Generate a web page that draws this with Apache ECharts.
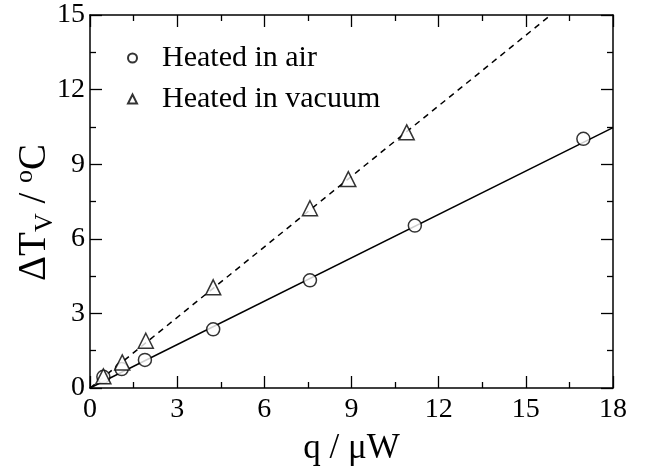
<!DOCTYPE html>
<html><head><meta charset="utf-8">
<script src="https://cdn.jsdelivr.net/npm/echarts@6/dist/echarts.min.js"></script>
<style>html,body{margin:0;padding:0;background:#fff}#c{width:658px;height:471px}</style>
</head><body><div id="c"></div>
<script>
// Data
const airQ = [0.46, 1.09, 1.89, 4.24, 7.57, 11.18, 16.98];
const airT = [0.45, 0.76, 1.13, 2.36, 4.33, 6.53, 10.02];
const vacQ = [0.46, 1.11, 1.92, 4.24, 7.57, 8.89, 10.90];
const vacT = [0.47, 1.03, 1.90, 4.05, 7.23, 8.40, 10.28];
const airFitQ = [0, 18];
const airFitT = [0, 10.47];
const vacFitQ = [0, 15.86];
const vacFitT = [0, 15];
const seriesNames = ['Heated in air', 'Heated in vacuum'];
const xTicks = {min: 0, max: 18, interval: 3};
const yTicks = {min: 0, max: 15, interval: 3};

const zip = (a, b) => a.map((v, i) => [v, b[i]]);
const font = 'Liberation Serif, Times New Roman, serif';

const tickCommon = {show: true, inside: true, length: 12, lineStyle: {color: '#000', width: 1.3}};
const minorCommon = {show: true, splitNumber: 2, length: 6, lineStyle: {color: '#000', width: 1.3}};
const lineCommon = {show: true, onZero: false, lineStyle: {color: '#000', width: 1.5}};

const chart = echarts.init(document.getElementById('c'), null, {renderer: 'canvas'});
chart.setOption({
  animation: false,
  backgroundColor: '#fff',
  grid: {left: 90, right: 45, top: 15, bottom: 83, containLabel: false, outerBoundsMode: 'none'},
  legend: {
    data: seriesNames,
    orient: 'vertical',
    left: 122, top: 38,
    itemWidth: 9, itemHeight: 9,
    itemGap: 11,
    textStyle: {fontFamily: font, fontSize: 30, lineHeight: 30, color: '#000', padding: [0, 0, 0, 20]},
    inactiveColor: '#000'
  },
  xAxis: [{
    type: 'value', min: xTicks.min, max: xTicks.max, interval: xTicks.interval,
    position: 'bottom',
    axisLine: lineCommon, axisTick: tickCommon, minorTick: minorCommon,
    splitLine: {show: false},
    axisLabel: {fontFamily: font, fontSize: 28, color: '#000', margin: 8},
    name: 'q / μW', nameLocation: 'middle', nameGap: 43, nameMoveOverlap: false,
    nameTextStyle: {fontFamily: font, fontSize: 35, color: '#000'}
  }, {
    type: 'value', min: xTicks.min, max: xTicks.max, interval: xTicks.interval,
    position: 'top',
    axisLine: lineCommon, axisTick: tickCommon, minorTick: minorCommon,
    splitLine: {show: false}, axisLabel: {show: false}
  }],
  yAxis: [{
    type: 'value', min: yTicks.min, max: yTicks.max, interval: yTicks.interval,
    position: 'left',
    axisLine: lineCommon, axisTick: tickCommon, minorTick: minorCommon,
    splitLine: {show: false},
    axisLabel: {fontFamily: font, fontSize: 28, color: '#000', margin: 5},
    name: '{a|ΔT}{b|V}{a| / }{c|o}{a|C}', nameLocation: 'middle', nameGap: 32, nameMoveOverlap: false,
    nameTextStyle: {
      fontFamily: font, color: '#000', padding: [0, 22, 0, 0],
      rich: {
        a: {fontFamily: font, fontSize: 39, color: '#000', lineHeight: 46, verticalAlign: 'middle'},
        b: {fontFamily: font, fontSize: 26, color: '#000', lineHeight: 46, verticalAlign: 'bottom'},
        c: {fontFamily: font, fontSize: 26, color: '#000', lineHeight: 46, verticalAlign: 'top'}
      }
    }
  }, {
    type: 'value', min: yTicks.min, max: yTicks.max, interval: yTicks.interval,
    position: 'right',
    axisLine: lineCommon, axisTick: tickCommon, minorTick: minorCommon,
    splitLine: {show: false}, axisLabel: {show: false}
  }],
  series: [{
    name: 'air fit', type: 'line', data: zip(airFitQ, airFitT), symbol: 'none',
    lineStyle: {color: '#000', width: 1.5, type: 'solid'}, z: 1
  }, {
    name: 'vacuum fit', type: 'line', data: zip(vacFitQ, vacFitT), symbol: 'none',
    lineStyle: {color: '#000', width: 1.5, type: [6, 5]}, z: 1
  }, {
    name: seriesNames[0], type: 'scatter', data: zip(airQ, airT),
    symbol: 'circle', symbolSize: 13,
    itemStyle: {color: '#fff', borderColor: '#000', borderWidth: 1.5}, z: 3
  }, {
    name: seriesNames[1], type: 'scatter', data: zip(vacQ, vacT),
    symbol: 'triangle', symbolSize: 15,
    itemStyle: {color: '#fff', borderColor: '#000', borderWidth: 1.5}, z: 3
  }]
});
</script></body></html>
